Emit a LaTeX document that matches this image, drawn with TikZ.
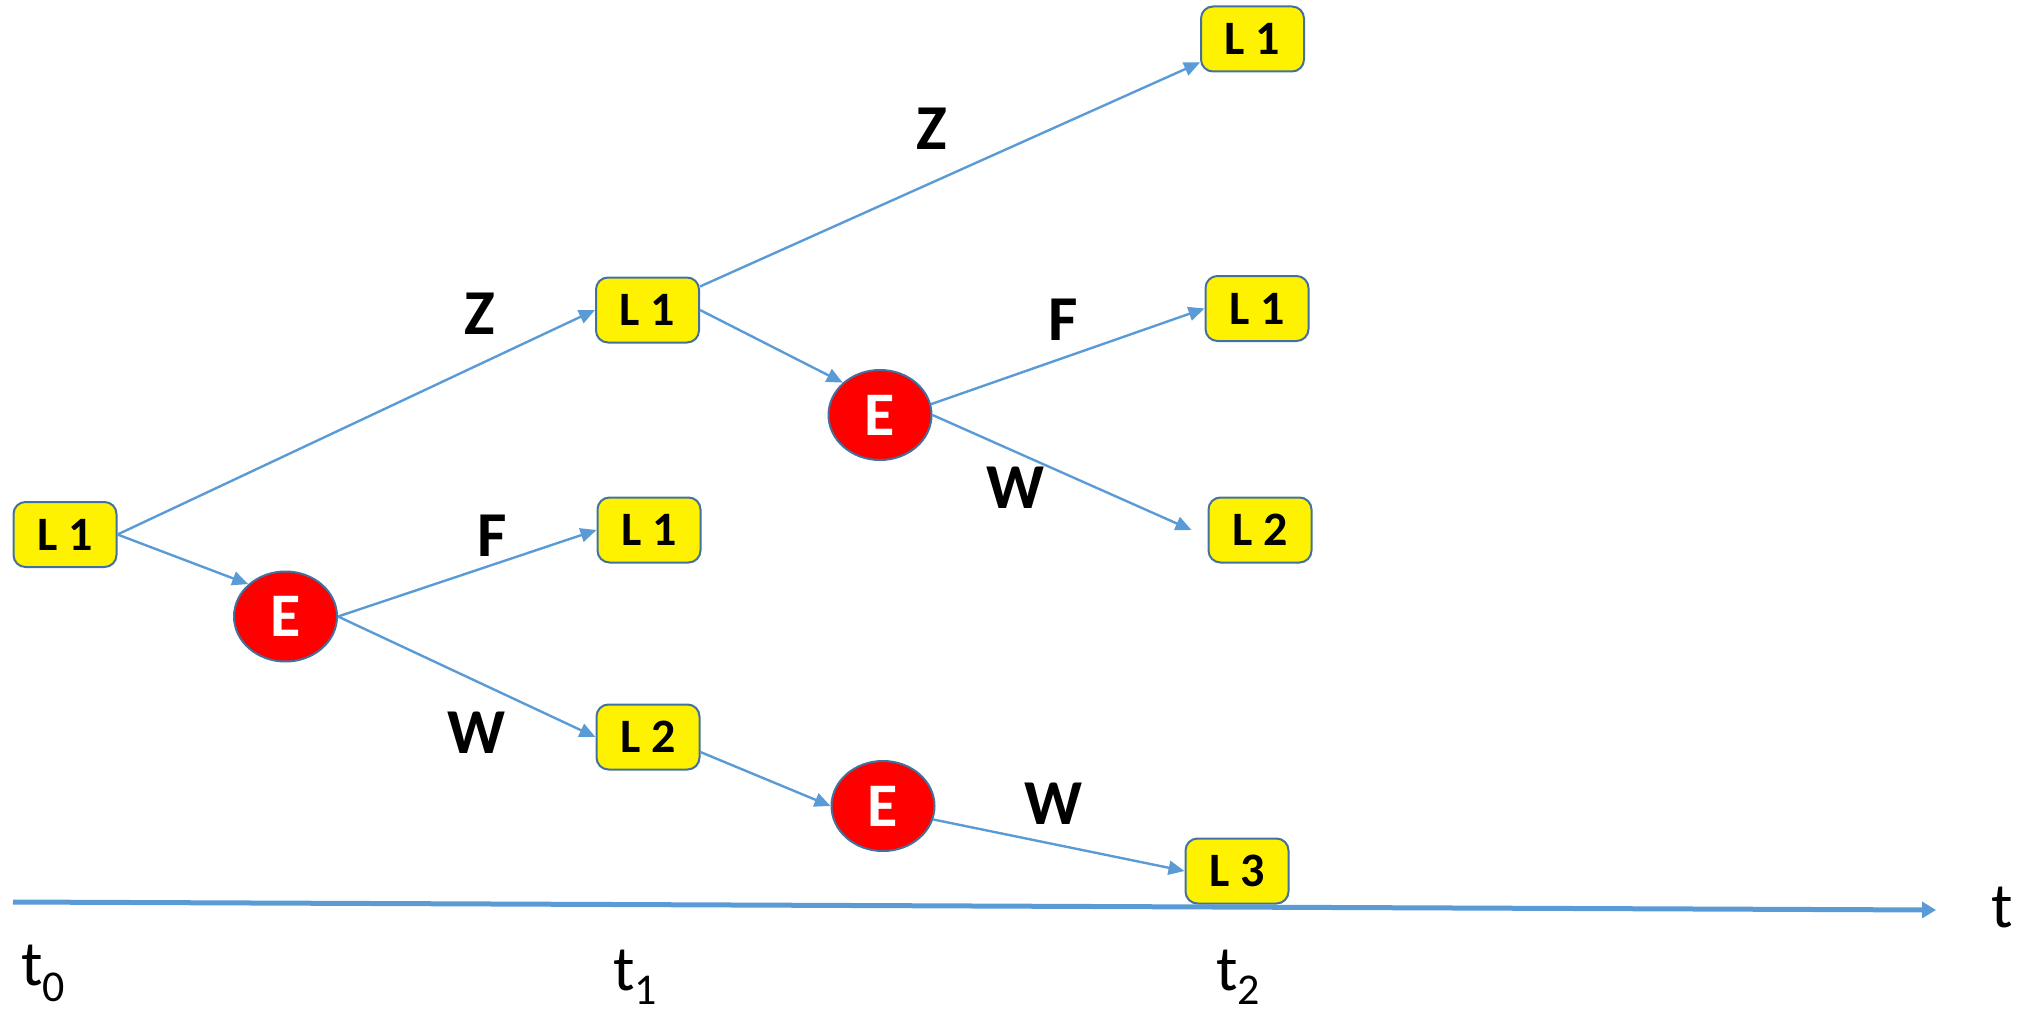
\documentclass[tikz,border=0pt]{standalone}
\usepackage{fontspec}
\setmainfont{Carlito}
\usetikzlibrary{arrows.meta,shapes.geometric}
\definecolor{boxline}{HTML}{41719C}
\definecolor{connblue}{HTML}{5B9BD5}
\begin{document}
\begin{tikzpicture}[x=0.5pt,y=-0.5pt,
  lbox/.style={draw=boxline, line width=1pt, fill=yellow, rounded corners=6pt,
    minimum width=51.5pt, minimum height=32.5pt, inner sep=0pt,
    font=\fontsize{24}{24}\selectfont\bfseries},
  evt/.style={ellipse, draw=boxline, line width=1pt, fill=red,
    minimum width=51.5pt, minimum height=45pt, inner sep=0pt, text=white,
    font=\fontsize{31}{31}\selectfont\bfseries},
  conn/.style={draw=connblue, line width=1.2pt, -{Triangle[length=8pt,width=7pt]}},
  axisline/.style={draw=connblue, line width=2.5pt, -{Triangle[length=7pt,width=8pt]}},
  lab/.style={font=\fontsize{32}{32}\selectfont\bfseries, inner sep=0pt},
  tlab/.style={font=\fontsize{32}{32}\selectfont, inner sep=0pt, anchor=base west},
]
\useasboundingbox (0,0) rectangle (2037,1016);

% level t0
\node[lbox] (A0) at (65,534.5) {L 1};
\node[evt] (E1) at (285.5,616.5) {E};

% level t1
\node[lbox] (B1) at (647.5,310) {L 1};
\node[lbox] (B2) at (649,530) {L 1};
\node[lbox] (B3) at (648,737) {L 2};
\node[evt] (E2) at (880,415) {E};
\node[evt] (E3) at (883,806) {E};

% level t2
\node[lbox] (C1) at (1252.5,39) {L 1};
\node[lbox] (C2) at (1257,308.5) {L 1};
\node[lbox] (C3) at (1260,530) {L 2};
\node[lbox] (C4) at (1237,871) {L 3};

% branches
\draw[conn] (A0.east) -- (B1.west);
\draw[conn] (A0.east) -- (E1.139);
\draw[conn] (E1.east) -- (B2.west);
\draw[conn] (E1.east) -- (B3.west);
\draw[conn] (B1) -- (C1);
\draw[conn] (B1.east) -- (E2.139);
\draw[conn] (E2.12) -- (C2.west);
\draw[conn] (E2.east) -- ([xshift=-8pt]C3.west);
\draw[conn] (B3.-16) -- (E3.west);
\draw[conn] (E3.-15) -- (C4.west);

% branch labels
\node[lab] (z1) at (480,314) {Z};
\node[lab] (f1) at (492,536) {F};
\node[lab] (w1) at (476,733) {W};
\node[lab] (z2) at (932,129) {Z};
\node[lab] (f2) at (1063,320) {F};
\node[lab] (w2) at (1015,488) {W};
\node[lab] (w3) at (1053,804) {W};

% time axis
\coordinate (ax0) at (13,902);
\coordinate (ax1) at (1936,910);
\draw[axisline] (ax0) -- (ax1);
\node[tlab] (tt) at (1991,927) {t};
\node[tlab] (t0) at (21,985) {t\raisebox{-8pt}{\fontsize{22}{22}\selectfont 0}};
\node[tlab] (t1) at (613,990) {t\raisebox{-7pt}{\fontsize{22}{22}\selectfont 1}};
\node[tlab] (t2) at (1216,990) {t\raisebox{-7pt}{\fontsize{22}{22}\selectfont 2}};
\end{tikzpicture}
\end{document}
